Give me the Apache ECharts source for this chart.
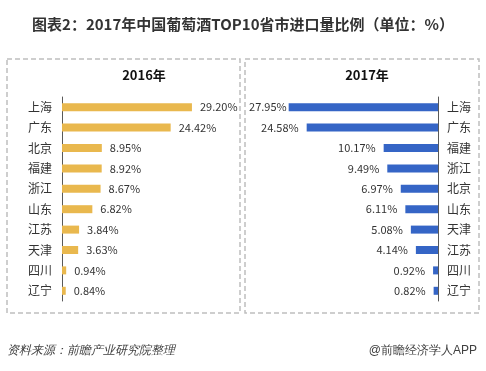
<!DOCTYPE html>
<html><head><meta charset="utf-8">
<script src="https://cdn.jsdelivr.net/npm/echarts@6/dist/echarts.min.js"></script>
<style>html,body{margin:0;padding:0;background:#fff;}#c{width:486px;height:371px;}</style>
</head><body><div id="c"></div>
<script>
var cats2016 = ['上海','广东','北京','福建','浙江','山东','江苏','天津','四川','辽宁'];
var vals2016 = [29.20, 24.42, 8.95, 8.92, 8.67, 6.82, 3.84, 3.63, 0.94, 0.84];
var cats2017 = ['上海','广东','福建','浙江','北京','山东','天津','江苏','四川','辽宁'];
var vals2017 = [27.95, 24.58, 10.17, 9.49, 6.97, 6.11, 5.08, 4.14, 0.92, 0.82];

var FF = '"Noto Sans CJK SC","Noto Sans",sans-serif';
var chart = echarts.init(document.getElementById('c'), null, {renderer:'canvas'});
var fmt = function(p){ return p.value.toFixed(2) + '%'; };
var data2017 = vals2017.map(function(v,i){
  return i === 0 ? {value:v, label:{distance:2}} : v;
});
chart.setOption({
  animation:false,
  backgroundColor:'#fff',
  title:[
    {text:'图表2：2017年中国葡萄酒TOP10省市进口量比例（单位：%）', left:'center', top:12,
     textStyle:{fontSize:15, fontWeight:'bold', color:'#333', fontFamily:FF}},
    {text:'2016年', left:139, top:64, textAlign:'center',
     textStyle:{fontSize:13, fontWeight:'bold', color:'#111', fontFamily:FF}},
    {text:'2017年', left:362, top:64, textAlign:'center',
     textStyle:{fontSize:13, fontWeight:'bold', color:'#111', fontFamily:FF}}
  ],
  graphic:[
    {type:'rect', shape:{x:7, y:59, width:233, height:254}, style:{fill:'none', stroke:'#bfbfbf', lineWidth:1.5, lineDash:[5,3]}},
    {type:'rect', shape:{x:245, y:59, width:234, height:254}, style:{fill:'none', stroke:'#bfbfbf', lineWidth:1.5, lineDash:[5,3]}},
    {type:'text', left:7, top:345, style:{text:'资料来源：前瞻产业研究院整理', fontSize:12, fontStyle:'italic', fill:'#404040', font:'italic 12px '+FF}},
    {type:'text', right:9, top:345, style:{text:'@前瞻经济学人APP', fontSize:12, fill:'#404040', font:'12px '+FF}}
  ],
  grid:[
    {left:62, width:178, top:97, height:204},
    {left:251, width:187, top:97, height:204}
  ],
  xAxis:[
    {gridIndex:0, type:'value', min:0, max:40, show:false},
    {gridIndex:1, type:'value', min:0, max:35, inverse:true, show:false}
  ],
  yAxis:[
    {gridIndex:0, type:'category', data:cats2016, inverse:true,
     axisLine:{lineStyle:{color:'#595959', width:1}}, axisTick:{show:false},
     axisLabel:{margin:10, fontSize:12, color:'#333', fontFamily:FF}},
    {gridIndex:1, type:'category', data:cats2017, inverse:true, position:'right',
     axisLine:{lineStyle:{color:'#595959', width:1}}, axisTick:{show:false},
     axisLabel:{margin:9, fontSize:12, color:'#333', fontFamily:FF}}
  ],
  series:[
    {type:'bar', xAxisIndex:0, yAxisIndex:0, data:vals2016, barWidth:8,
     itemStyle:{color:'#E9B84E'},
     label:{show:true, position:'right', distance:8, formatter:fmt, fontSize:11, color:'#333', fontFamily:FF}},
    {type:'bar', xAxisIndex:1, yAxisIndex:1, data:data2017, barWidth:8,
     itemStyle:{color:'#3565C6'},
     label:{show:true, position:'left', distance:8, formatter:fmt, fontSize:11, color:'#333', fontFamily:FF}}
  ]
});
</script></body></html>
